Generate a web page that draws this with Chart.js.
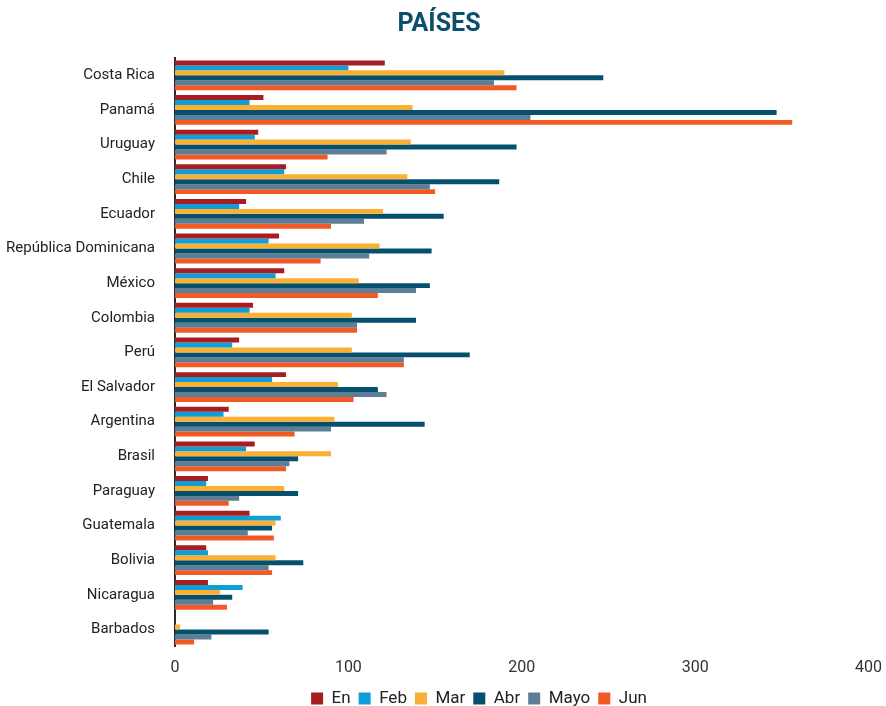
<!DOCTYPE html>
<html>
<head>
<meta charset="utf-8">
<script src="https://cdn.jsdelivr.net/npm/chart.js@4.4.1/dist/chart.umd.min.js"></script>
<style>
  html, body { margin:0; padding:0; background:#fff; }
  #wrap { position:relative; width:886px; height:706px; }
</style>
</head>
<body>
<div id="wrap"><canvas id="c"></canvas></div>
<script>
// categories (top to bottom)
const countries = ["Costa Rica","Panamá","Uruguay","Chile","Ecuador","República Dominicana","México","Colombia","Perú","El Salvador","Argentina","Brasil","Paraguay","Guatemala","Bolivia","Nicaragua","Barbados"];

// monthly values
const en   = [121, 51, 48, 64, 41, 60, 63, 45, 37, 64, 31, 46, 19, 43, 18, 19, 0];
const feb  = [100, 43, 46, 63, 37, 54, 58, 43, 33, 56, 28, 41, 18, 61, 19, 39, 0];
const mar  = [190, 137, 136, 134, 120, 118, 106, 102, 102, 94, 92, 90, 63, 58, 58, 26, 3];
const abr  = [247, 347, 197, 187, 155, 148, 147, 139, 170, 117, 144, 71, 71, 56, 74, 33, 54];
const mayo = [184, 205, 122, 147, 109, 112, 139, 105, 132, 122, 90, 66, 37, 42, 54, 22, 21];
const jun  = [197, 356, 88, 150, 90, 84, 117, 105, 132, 103, 69, 64, 31, 57, 56, 30, 11];

const xTicks = [0, 100, 200, 300, 400];

const seriesNames  = ["En","Feb","Mar","Abr","Mayo","Jun"];
const seriesValues = [en, feb, mar, abr, mayo, jun];
const seriesColors = ["#a51e22","#0e9fd8","#fbb034","#04506e","#5e7e96","#f15a24"];

const FONT = "Roboto, 'DejaVu Sans', sans-serif";

// legend sits a bit lower and a bit right of the canvas centre in the original
const tightLegend = {
  id: "tightLegend",
  beforeUpdate(chart) {
    const lg = chart.legend;
    if (!lg || lg._tight) return;
    const fit = lg.fit, draw = lg.draw;
    lg.fit = function () { fit.call(this); this.height -= 11; };
    lg.draw = function () {
      const ctx = this.ctx;
      ctx.save(); ctx.translate(40, 0); draw.call(this); ctx.restore();
    };
    lg._tight = true;
  }
};

new Chart(document.getElementById("c"), {
  type: "bar",
  data: {
    labels: countries,
    datasets: seriesNames.map((n, i) => ({
      label: n,
      data: seriesValues[i],
      backgroundColor: seriesColors[i],
      borderWidth: 0,
      barPercentage: 1.0,
      categoryPercentage: 0.86
    }))
  },
  plugins: [tightLegend],
  options: {
    indexAxis: "y",
    responsive: true,
    maintainAspectRatio: false,
    animation: false,
    layout: { padding: { left: 4, right: 12, top: 9, bottom: 0 } },
    plugins: {
      title: {
        display: true,
        text: "PAÍSES",
        color: "#0b4f6c",
        font: { family: FONT, size: 25, weight: "bold" },
        padding: { top: 1, bottom: 18 }
      },
      legend: {
        position: "bottom",
        labels: {
          color: "#222",
          font: { family: FONT, size: 17 },
          boxWidth: 12,
          boxHeight: 12,
          padding: 8
        }
      },
      tooltip: { enabled: false }
    },
    scales: {
      x: {
        min: 0, max: 400,
        afterBuildTicks: s => { s.ticks = xTicks.map(v => ({ value: v })); },
        grid: { display: false },
        border: { display: false },
        ticks: { color: "#333", font: { family: FONT, size: 16 }, padding: 4 }
      },
      y: {
        afterFit: s => { s.width = 171; },
        grid: { display: false },
        border: { display: true, color: "#2a2a2a", width: 2 },
        ticks: { color: "#222", font: { family: FONT, size: 15 }, padding: 12, autoSkip: false }
      }
    }
  }
});
</script>
</body>
</html>
